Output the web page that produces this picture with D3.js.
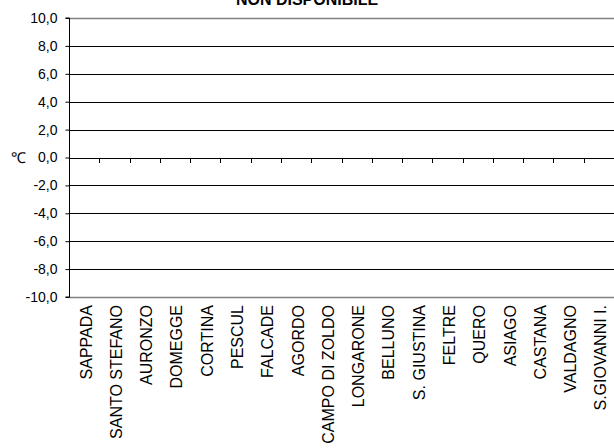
<!DOCTYPE html>
<html><head><meta charset="utf-8">
<script src="https://cdn.jsdelivr.net/npm/d3@7"></script>
<style>body{margin:0;background:#fff}svg{display:block}text{font-family:"Liberation Sans",Arial,sans-serif}</style>
</head><body>
<svg id="c" width="614" height="448"></svg>
<script>
const categories = ["SAPPADA","SANTO STEFANO","AURONZO","DOMEGGE","CORTINA","PESCUL","FALCADE","AGORDO","CAMPO DI ZOLDO","LONGARONE","BELLUNO","S. GIUSTINA","FELTRE","QUERO","ASIAGO","CASTANA","VALDAGNO","S.GIOVANNI I."];
const values = [];
const yTicks = [10,8,6,4,2,0,-2,-4,-6,-8,-10];
const title = "NON DISPONIBILE";

const svg = d3.select("#c");
const L = 69, R = 614, T = 18, B = 297;
const x = d3.scaleBand().domain(categories).range([L, R]);
const y = d3.scaleLinear().domain([-10, 10]).range([B, T]);

// grid
svg.append("g").selectAll("line").data(yTicks).join("line")
  .attr("x1", L).attr("x2", R)
  .attr("y1", d => Math.round(y(d)) + 0.5).attr("y2", d => Math.round(y(d)) + 0.5)
  .attr("stroke", d => (d === 10 || d === -10) ? "#808080" : "#000")
  .attr("stroke-width", d => (d === 10 || d === -10) ? 1.5 : 1);

// y axis
const ya = d3.axisLeft(y).tickValues(yTicks).tickSize(4).tickPadding(8)
  .tickFormat(d => d3.format(".1f")(d).replace(".", ",").replace("−", "-"));
const yg = svg.append("g").attr("transform", `translate(${L + 0.5},0)`).call(ya);
yg.select(".domain").attr("stroke", "#000").attr("d", `M-4,${T}H0V${B}H-4`);
yg.selectAll(".tick line").attr("stroke", "#000");
yg.selectAll(".tick text").attr("font-size", 14).attr("fill", "#000")
  .attr("font-family", "Liberation Sans, Arial, sans-serif");

// category ticks on zero line
const bounds = categories.slice(1).map(c => x(c));
svg.append("g").selectAll("line").data(bounds).join("line")
  .attr("x1", d => Math.round(d) + 0.5).attr("x2", d => Math.round(d) + 0.5)
  .attr("y1", Math.round(y(0))).attr("y2", Math.round(y(0)) + 5)
  .attr("stroke", "#000");

// category labels
svg.append("g").selectAll("text").data(categories).join("text")
  .attr("transform", d => `translate(${x(d) + x.bandwidth() / 2 + 7.5},305) rotate(-90)`)
  .attr("text-anchor", "end").attr("font-size", 16).attr("fill", "#000")
  .text(d => d);

// unit label
svg.append("text").attr("x", 18).attr("y", y(0) + 5.5).attr("text-anchor", "middle")
  .attr("font-size", 15).text("℃");

// title
svg.append("text").attr("x", 307).attr("y", 5).attr("text-anchor", "middle")
  .attr("font-size", 16).attr("font-weight", "bold").text(title);
</script>
</body></html>
